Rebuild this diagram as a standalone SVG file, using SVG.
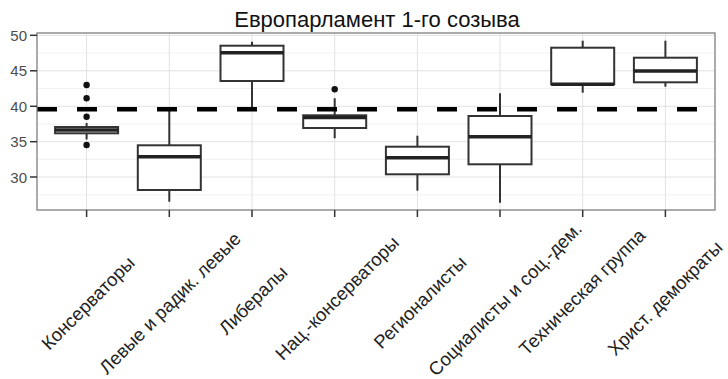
<svg xmlns="http://www.w3.org/2000/svg" width="728" height="379" viewBox="0 0 728 379">
<style>
  .title{font-family:"Liberation Sans",Arial,sans-serif;font-size:22px;fill:#111;}
  .ylab{font-family:"Liberation Sans",Arial,sans-serif;font-size:15px;fill:#4d4d4d;text-anchor:end;}
  .xlab{font-family:"Liberation Sans",Arial,sans-serif;font-size:18.5px;fill:#222;text-anchor:middle;dominant-baseline:central;}
  .gmaj{stroke:#e2e2e2;stroke-width:1;fill:none;}
  .gmin{stroke:#f1f1f1;stroke-width:1;fill:none;}
  .tick{stroke:#333;stroke-width:1.5;}
  .box{fill:#fff;stroke:#333;stroke-width:2;}
  .wh{stroke:#333;stroke-width:2;fill:none;}
  .med{stroke:#222;stroke-width:3.5;}
  .out{fill:#111;}
  .ref{stroke:#000;stroke-width:4.5;stroke-dasharray:20 20;fill:none;}
</style>
<rect x="0" y="0" width="728" height="379" fill="#fff"/>
<text class="title" x="377" y="27" text-anchor="middle">Европарламент 1-го созыва</text>
<g id="grid">
  <line class="gmin" x1="37" y1="194.8" x2="715" y2="194.8"/>
  <line class="gmin" x1="37" y1="159.3" x2="715" y2="159.3"/>
  <line class="gmin" x1="37" y1="124" x2="715" y2="124"/>
  <line class="gmin" x1="37" y1="88.5" x2="715" y2="88.5"/>
  <line class="gmin" x1="37" y1="53" x2="715" y2="53"/>
  <line class="gmaj" x1="37" y1="177" x2="715" y2="177"/>
  <line class="gmaj" x1="37" y1="141.7" x2="715" y2="141.7"/>
  <line class="gmaj" x1="37" y1="106.3" x2="715" y2="106.3"/>
  <line class="gmaj" x1="37" y1="70.8" x2="715" y2="70.8"/>
  <line class="gmaj" x1="37" y1="35.3" x2="715" y2="35.3"/>
  <line class="gmaj" x1="86.6" y1="33" x2="86.6" y2="210"/>
  <line class="gmaj" x1="169.3" y1="33" x2="169.3" y2="210"/>
  <line class="gmaj" x1="252" y1="33" x2="252" y2="210"/>
  <line class="gmaj" x1="334.7" y1="33" x2="334.7" y2="210"/>
  <line class="gmaj" x1="417.4" y1="33" x2="417.4" y2="210"/>
  <line class="gmaj" x1="500" y1="33" x2="500" y2="210"/>
  <line class="gmaj" x1="582.7" y1="33" x2="582.7" y2="210"/>
  <line class="gmaj" x1="665.4" y1="33" x2="665.4" y2="210"/>
</g>
<g id="box-konservatory">
  <line class="wh" x1="86.6" y1="123" x2="86.6" y2="139.5"/>
  <rect class="box" x="55.1" y="127" width="63" height="6.3"/>
  <line class="med" x1="55.1" y1="130" x2="118.1" y2="130"/>
  <circle class="out" cx="86.6" cy="85" r="3.2"/>
  <circle class="out" cx="86.6" cy="98.3" r="3.2"/>
  <circle class="out" cx="86.6" cy="116.7" r="3.2"/>
  <circle class="out" cx="86.6" cy="145" r="3.2"/>
</g>
<g id="box-levye">
  <line class="wh" x1="169.3" y1="109" x2="169.3" y2="201.7"/>
  <rect class="box" x="137.8" y="145.3" width="63" height="44.7"/>
  <line class="med" x1="137.8" y1="156.7" x2="200.8" y2="156.7"/>
</g>
<g id="box-liberaly">
  <line class="wh" x1="252" y1="41.7" x2="252" y2="109"/>
  <rect class="box" x="220.5" y="45.7" width="63" height="35.3"/>
  <line class="med" x1="220.5" y1="52.7" x2="283.5" y2="52.7"/>
</g>
<g id="box-nac-konservatory">
  <line class="wh" x1="334.7" y1="98.3" x2="334.7" y2="138.3"/>
  <rect class="box" x="303.2" y="115.3" width="63" height="12.7"/>
  <line class="med" x1="303.2" y1="117.6" x2="366.2" y2="117.6"/>
  <circle class="out" cx="334.7" cy="89.3" r="3.2"/>
</g>
<g id="box-regionalisty">
  <line class="wh" x1="417.4" y1="135.7" x2="417.4" y2="190.7"/>
  <rect class="box" x="385.9" y="146.7" width="63" height="27.6"/>
  <line class="med" x1="385.9" y1="157.7" x2="448.9" y2="157.7"/>
</g>
<g id="box-socialisty">
  <line class="wh" x1="500" y1="93.3" x2="500" y2="202.7"/>
  <rect class="box" x="468.5" y="116" width="63" height="48.3"/>
  <line class="med" x1="468.5" y1="136.7" x2="531.5" y2="136.7"/>
</g>
<g id="box-tehnicheskaya">
  <line class="wh" x1="582.7" y1="40.7" x2="582.7" y2="92.7"/>
  <rect class="box" x="551.2" y="47.7" width="63" height="36.6"/>
  <line class="med" x1="551.2" y1="84.3" x2="614.2" y2="84.3"/>
</g>
<g id="box-hrist-demokraty">
  <line class="wh" x1="665.4" y1="40.7" x2="665.4" y2="86.7"/>
  <rect class="box" x="633.9" y="57.7" width="63" height="24.6"/>
  <line class="med" x1="633.9" y1="71" x2="696.9" y2="71"/>
</g>
<g id="connectors">
  <line class="ref" x1="37" y1="109.3" x2="715" y2="109.3"/>
</g>
<rect x="37" y="33" width="678" height="177" fill="none" stroke="#7f7f7f" stroke-width="1.3"/>
<g id="axes">
  <line class="tick" x1="30" y1="35.3" x2="37" y2="35.3"/>
  <line class="tick" x1="30" y1="70.8" x2="37" y2="70.8"/>
  <line class="tick" x1="30" y1="106.3" x2="37" y2="106.3"/>
  <line class="tick" x1="30" y1="141.7" x2="37" y2="141.7"/>
  <line class="tick" x1="30" y1="177" x2="37" y2="177"/>
  <text class="ylab" x="27" y="40.8">50</text>
  <text class="ylab" x="27" y="76.3">45</text>
  <text class="ylab" x="27" y="111.8">40</text>
  <text class="ylab" x="27" y="147.2">35</text>
  <text class="ylab" x="27" y="182.5">30</text>
  <line class="tick" x1="86.6" y1="210" x2="86.6" y2="217"/>
  <line class="tick" x1="169.3" y1="210" x2="169.3" y2="217"/>
  <line class="tick" x1="252" y1="210" x2="252" y2="217"/>
  <line class="tick" x1="334.7" y1="210" x2="334.7" y2="217"/>
  <line class="tick" x1="417.4" y1="210" x2="417.4" y2="217"/>
  <line class="tick" x1="500" y1="210" x2="500" y2="217"/>
  <line class="tick" x1="582.7" y1="210" x2="582.7" y2="217"/>
  <line class="tick" x1="665.4" y1="210" x2="665.4" y2="217"/>
  <text class="xlab" transform="translate(88,303) rotate(-45)">Консерваторы</text>
  <text class="xlab" transform="translate(170,303) rotate(-45)">Левые и радик. левые</text>
  <text class="xlab" transform="translate(253,300) rotate(-45)">Либералы</text>
  <text class="xlab" transform="translate(337,298) rotate(-45)">Нац.-консерваторы</text>
  <text class="xlab" transform="translate(420,302) rotate(-45)">Регионалисты</text>
  <text class="xlab" transform="translate(505,299) rotate(-45)">Социалисты и соц.-дем.</text>
  <text class="xlab" transform="translate(582,292) rotate(-45)">Техническая группа</text>
  <text class="xlab" transform="translate(665,298) rotate(-45)">Христ. демократы</text>
</g>
</svg>
